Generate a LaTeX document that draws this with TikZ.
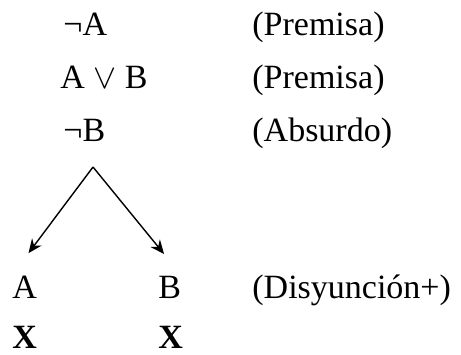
\documentclass[tikz,border=0pt]{standalone}
\usepackage{fontspec}
\setmainfont{Liberation Serif}
\usetikzlibrary{arrows.meta,positioning}
\tikzset{
  formula/.style={anchor=base west, inner sep=0pt, font=\fontsize{17}{20}\selectfont},
  regla/.style={anchor=base west, inner sep=0pt, font=\fontsize{17}{20}\selectfont},
  flecha/.style={-{Stealth[length=7pt,width=6pt]}, line width=0.7pt},
}
\begin{document}
\begin{tikzpicture}[x=0.5pt,y=-0.5pt]
  \useasboundingbox (0,0) rectangle (461,354);
  \node[formula] (negA) at (63,35) {¬A};
  \node[formula] (AoB) at (60,88) {A $\vee$ B};
  \node[formula] (negB) at (63,141) {¬B};
  \node[regla] (r1) at (252,35) {(Premisa)};
  \node[regla] (r2) at (252,88) {(Premisa)};
  \node[regla] (r3) at (252,141) {(Absurdo)};
  \coordinate (apex) at (93,167);
  \node[formula] (A) at (12,298) {A};
  \node[formula] (B) at (158,298) {B};
  \node[regla] (r4) at (252,298) {(Disyunción+)};
  \node[formula] (xA) at (12,348) {\textbf{X}};
  \node[formula] (xB) at (158,348) {\textbf{X}};
  \draw[flecha, shorten >=13.75pt] (apex) -- (A.north west);
  \draw[flecha, shorten >=13.75pt] (apex) -- (B.north east);
\end{tikzpicture}
\end{document}
